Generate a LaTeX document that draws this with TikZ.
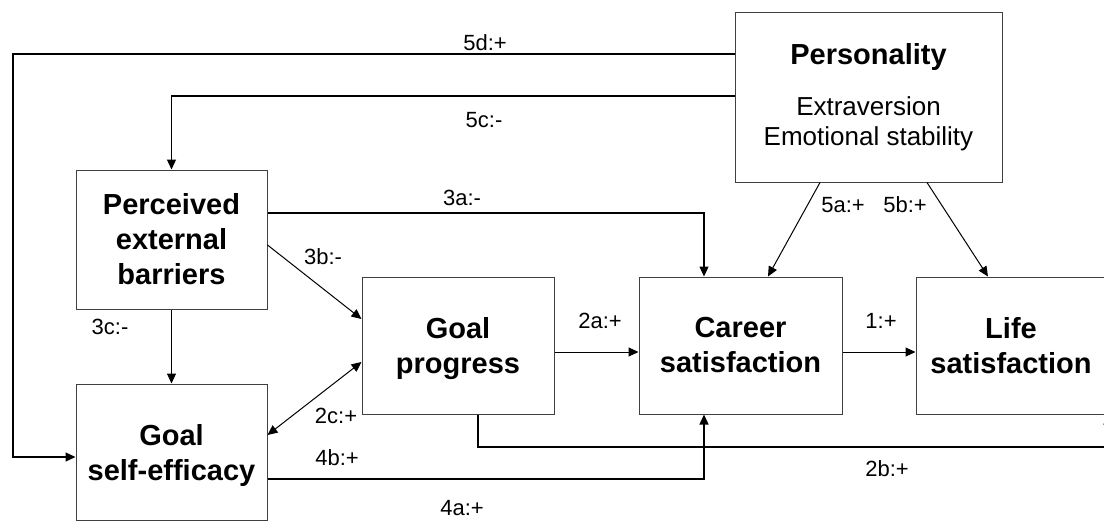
\documentclass[tikz,border=0pt]{standalone}
\usepackage{fontspec}
\setmainfont{Liberation Sans}
\usetikzlibrary{arrows.meta}
\begin{document}
\begin{tikzpicture}[x=1pt,y=-1pt,
  box/.style={draw=black!75, line width=1pt, fill=white, inner sep=0pt,
    align=center, font=\fontsize{29}{35}\selectfont\bfseries},
  tip/.style={-{Triangle[length=10pt,width=9pt]}},
  conn/.style={tip, line width=1.3pt},
  diag/.style={tip, line width=1pt},
  lbl/.style={font=\fontsize{22}{26}\selectfont, inner sep=0pt}]
\useasboundingbox (0,0) rectangle (1104,522);
\clip (0,0) rectangle (1104,522);

% boxes
\node[box, minimum width=267pt, minimum height=170pt,
      font=\fontsize{26}{30}\selectfont] (pers) at (868.5,97)
  {{\fontsize{29}{35}\selectfont\bfseries Personality}\\[21pt]Extraversion\\Emotional stability};
\node[box, minimum width=191pt, minimum height=139pt] (peb) at (171.5,239.5)
  {Perceived\\external\\barriers};
\node[box, minimum width=191pt, minimum height=136pt, text depth=0pt] (gse) at (171.5,452)
  {Goal\\self-efficacy};
\node[box, minimum width=192pt, minimum height=137pt, text depth=0pt] (gp) at (458,345.5)
  {Goal\\progress};
\node[box, minimum width=203pt, minimum height=137pt] (cs) at (740.5,345.5)
  {Career\\satisfaction};
\node[box, minimum width=190pt, minimum height=137pt] (ls) at (1011,345.5)
  {Life\\satisfaction};

% connectors
\draw[conn] (pers.west |- 0,54) -- (13,54) |- (gse.west |- 0,457);
\draw[conn] (pers.west |- 0,96) -| (peb.north);
\draw[conn] (peb.east |- 0,213) -| (cs.north -| 704,0);
\draw[diag] (peb.east |- 0,245) -- (gp.west |- 0,319);
\draw[diag] (peb.south) -- (gse.north);
\draw[diag, {Triangle[length=10pt,width=9pt]}-{Triangle[length=10pt,width=9pt]}]
  (gse.east |- 0,435) -- (gp.west |- 0,362);
\draw[diag] (gp.east |- 0,352) -- (cs.west |- 0,352);
\draw[diag] (cs.east |- 0,352) -- (ls.west |- 0,352);
\draw[diag] (pers.south -| 820,0) -- (cs.north -| 768,0);
\draw[diag] (pers.south -| 927,0) -- (ls.north -| 988,0);
\draw[conn] (gse.east |- 0,479) -| (cs.south -| 704,0);
\coordinate (c2b) at (1108,447);
\draw[conn] (gp.south -| 478,0) |- (c2b) -- (ls.south -| c2b);

% path labels
\node[lbl] (l5d) at (485,43) {5d:+};
\node[lbl] (l5c) at (484,120) {5c:-};
\node[lbl] (l3a) at (462,198) {3a:-};
\node[lbl] (l3b) at (323,257) {3b:-};
\node[lbl] (l3c) at (110,327) {3c:-};
\node[lbl] (l2c) at (336,416) {2c:+};
\node[lbl] (l4b) at (337,458) {4b:+};
\node[lbl] (l4a) at (462,508) {4a:+};
\node[lbl] (l2a) at (600,321) {2a:+};
\node[lbl] (l1) at (881,321) {1:+};
\node[lbl] (l5a) at (843,205) {5a:+};
\node[lbl] (l5b) at (905,205) {5b:+};
\node[lbl] (l2b) at (887,469) {2b:+};
\end{tikzpicture}
\end{document}
